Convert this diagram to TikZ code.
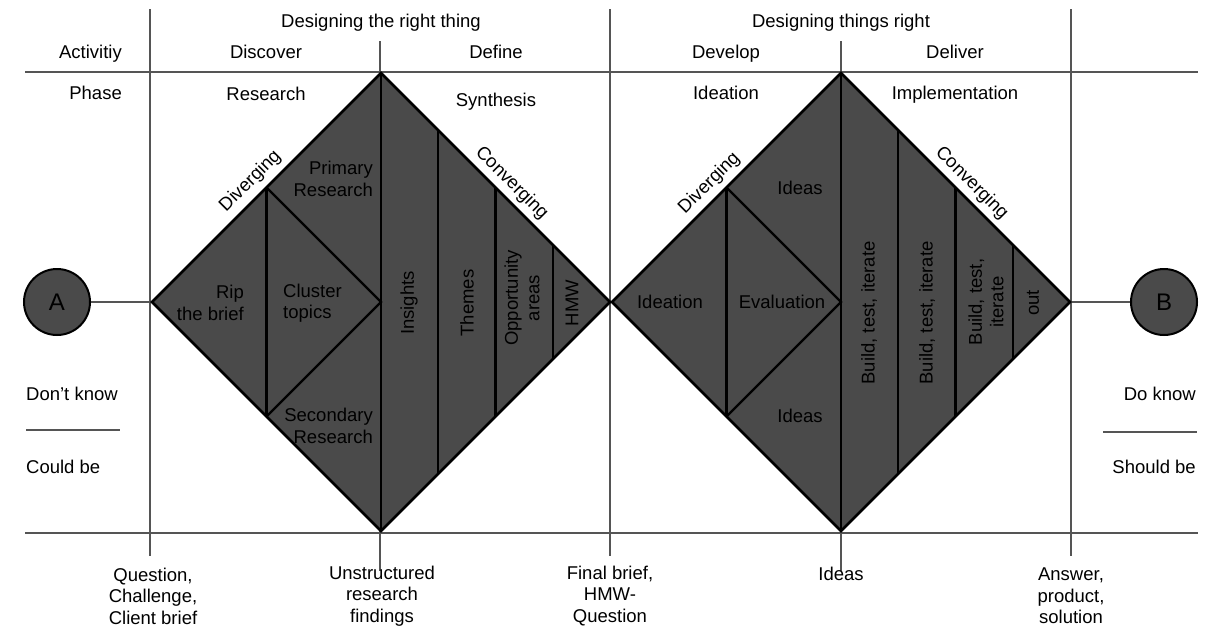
\documentclass[tikz,border=0pt]{standalone}
\usepackage{fontspec}
\setmainfont{Liberation Sans}
\usepackage{tikz}
\usepackage{xcolor}
\definecolor{diamondgray}{RGB}{74,74,74}
\definecolor{linegray}{RGB}{85,85,85}

\begin{document}
\begin{tikzpicture}[x=1pt, y=-1pt,
    gridline/.style={draw=linegray, line width=1.2pt},
    outline/.style={draw=black, line width=2.6pt, line join=miter},
    divider/.style={draw=black, line width=2.2pt},
    txt/.style={font=\fontsize{18.5}{21.5}\selectfont, inner sep=0pt, align=center},
    oneline/.style={txt, text height=13.5pt, text depth=0pt},
    up/.style={txt, rotate=90},
    letter/.style={circle, draw=black, line width=2pt, fill=diamondgray,
        minimum size=66pt, inner sep=0pt, font=\fontsize{24}{28}\selectfont}]
    \useasboundingbox (0,0) rectangle (1231,633);

    % Table lines
    \draw[gridline] (25,72) -- (1198,72) (25,533) -- (1198,533);
    \draw[gridline] (150,9) -- (150,556) (610,9) -- (610,556) (1071,9) -- (1071,556);
    \draw[gridline] (380,41) -- (380,571) (841,41) -- (841,571);
    \draw[gridline] (26,430) -- (120,430) (1103,432) -- (1197,432);

    % Diamond corners
    \coordinate (d1l) at (152,302);  \coordinate (d1t) at (381,73);
    \coordinate (d1r) at (610,302);  \coordinate (d1b) at (381,531);
    \coordinate (d2l) at (612,302);  \coordinate (d2t) at (841,73);
    \coordinate (d2r) at (1070,302); \coordinate (d2b) at (841,531);

    % Start and end
    \node[letter] (A) at (57,302) {A};
    \node[letter] (B) at (1164,302) {B};
    \draw[gridline] (A) -- (d1l);
    \draw[gridline] (d2r) -- (B);

    % Discover / Define diamond
    \begin{scope}[shift={(381,302)}]
        \fill[diamondgray] (d1l) -- (d1t) -- (d1r) -- (d1b) -- cycle;
        \draw[divider] (-114.5,-114.5) -- (-114.5,114.5);
        \draw[divider] (-114.5,-114.5) -- (0,0) -- (-114.5,114.5);
        \draw[divider] (d1t) -- (d1b);
        \draw[divider]
            (57.25,-171.75) -- (57.25,171.75)
            (114.5,-114.5) -- (114.5,114.5)
            (171.75,-57.25) -- (171.75,57.25);
        \draw[outline] (d1l) -- (d1t) -- (d1r) -- (d1b) -- cycle;
    \end{scope}

    % Develop / Deliver diamond
    \begin{scope}[shift={(841,302)}]
        \fill[diamondgray] (d2l) -- (d2t) -- (d2r) -- (d2b) -- cycle;
        \draw[divider] (-114.5,-114.5) -- (-114.5,114.5);
        \draw[divider] (-114.5,-114.5) -- (0,0) -- (-114.5,114.5);
        \draw[divider] (d2t) -- (d2b);
        \draw[divider]
            (57.25,-171.75) -- (57.25,171.75)
            (114.5,-114.5) -- (114.5,114.5)
            (171.75,-57.25) -- (171.75,57.25);
        \draw[outline] (d2l) -- (d2t) -- (d2r) -- (d2b) -- cycle;
    \end{scope}

    % Header rows
    \node[oneline] (h1) at (381,21) {Designing the right thing};
    \node[oneline] (h2) at (841,21) {Designing things right};
    \node[oneline, anchor=east] (act) at (122,52) {Activitiy};
    \node[oneline] (disc) at (266,52) {Discover};
    \node[oneline] (defi) at (496,52) {Define};
    \node[oneline] (deve) at (726,52) {Develop};
    \node[oneline] (deli) at (955,52) {Deliver};
    \node[oneline, anchor=east] (pha) at (122,93) {Phase};
    \node[oneline] (rese) at (266,94) {Research};
    \node[oneline] (synt) at (496,100) {Synthesis};
    \node[oneline] (idea) at (726,93) {Ideation};
    \node[oneline] (impl) at (955,93) {Implementation};

    % Inside first diamond
    \node[oneline, rotate=45] (div1) at (249,180) {Diverging};
    \node[oneline, rotate=-45] (con1) at (513,182) {Converging};
    \node[txt, anchor=east, align=right] (prim) at (373,179) {Primary\\Research};
    \node[txt, anchor=east, align=right] (rip) at (244,303) {Rip\\the brief};
    \node[txt, anchor=west, align=left] (clus) at (283,303) {Cluster\\topics};
    \node[txt, anchor=east, align=right] (seco) at (373,426) {Secondary\\Research};
    \node[up] (ins) at (409,303) {Insights};
    \node[up] (the) at (467,303) {Themes};
    \node[up] (opp) at (522,298) {Opportunity\\areas};
    \node[up] (hmw) at (572,303) {HMW};

    % Inside second diamond
    \node[oneline, rotate=45] (div2) at (708,182) {Diverging};
    \node[oneline, rotate=-45] (con2) at (973,182) {Converging};
    \node[oneline] (ideas1) at (800,188) {Ideas};
    \node[oneline] (ideat) at (670,302) {Ideation};
    \node[oneline] (eval) at (782,302) {Evaluation};
    \node[oneline] (ideas2) at (800,416) {Ideas};
    \node[up] (bti1) at (869,313) {Build, test, iterate};
    \node[up] (bti2) at (927,313) {Build, test, iterate};
    \node[up] (bti3) at (986,302) {Build, test,\\iterate};
    \node[up] (out) at (1033,303) {out};

    % Side notes
    \node[oneline, anchor=west] (dk) at (26,394) {Don't know};
    \node[oneline, anchor=west] (cb) at (26,467) {Could be};
    \node[oneline, anchor=east] (dok) at (1196,394) {Do know};
    \node[oneline, anchor=east] (sb) at (1196,467) {Should be};

    % Bottom row
    \node[txt] (q) at (153,596) {Question,\\Challenge,\\Client brief};
    \node[txt] (u) at (382,596) {Unstructured\\research\\findings};
    \node[txt] (f) at (610,596) {Final brief,\\HMW-\\Question};
    \node[oneline] (i) at (841,574) {Ideas};
    \node[txt] (ans) at (1071,596) {Answer,\\product,\\solution};
\end{tikzpicture}
\end{document}
